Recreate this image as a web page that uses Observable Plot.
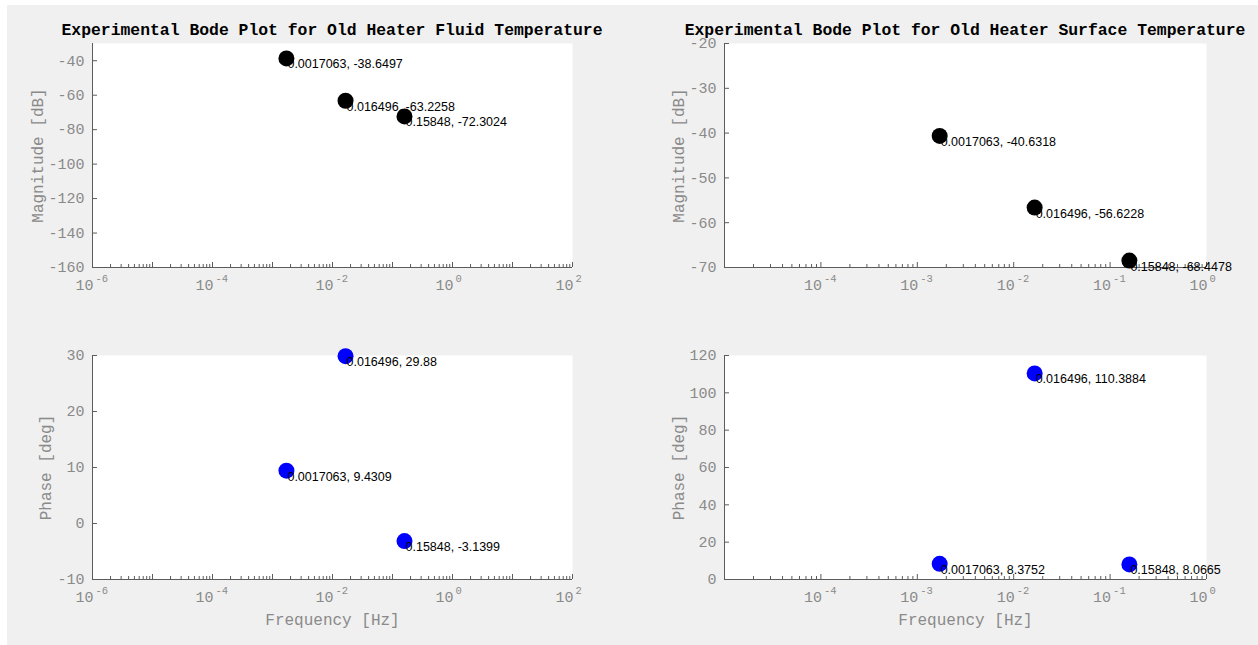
<!DOCTYPE html>
<html><head><meta charset="utf-8">
<script src="https://cdn.jsdelivr.net/npm/d3@7"></script>
<script src="https://cdn.jsdelivr.net/npm/@observablehq/plot@0.6"></script>
<style>
html,body{margin:0;padding:0;background:#fff;width:1258px;height:645px;overflow:hidden;position:relative;}
#bg{position:absolute;left:7px;top:5px;width:1251px;height:640px;background:#f0f0f0;}
.panel{position:absolute;}
.title{position:absolute;font:bold 16.4px "Liberation Mono", monospace;color:#000;white-space:nowrap;transform:translate(-50%,-50%);line-height:1;}
</style></head>
<body>
<div id="bg"></div>
<div id="t1" class="title" style="left:332px;top:31px"></div>
<div id="t2" class="title" style="left:965px;top:31px"></div>
<script>
// ---- data ----
const titles = ["Experimental Bode Plot for Old Heater Fluid Temperature",
                "Experimental Bode Plot for Old Heater Surface Temperature"];
const frequencies = [0.0017063, 0.016496, 0.15848];
const fluidMagnitude = [-38.6497, -63.2258, -72.3024];
const fluidPhase = [9.4309, 29.88, -3.1399];
const surfaceMagnitude = [-40.6318, -56.6228, -68.4478];
const surfacePhase = [8.3752, 110.3884, 8.0665];

const fluidMagTicks = [-160, -140, -120, -100, -80, -60, -40];
const surfaceMagTicks = [-70, -60, -50, -40, -30, -20];
const fluidPhaseTicks = [-10, 0, 10, 20, 30];
const surfacePhaseTicks = [0, 20, 40, 60, 80, 100, 120];
const wideFreqTicks = [1e-6, 1e-4, 1e-2, 1e0, 1e2];
const narrowFreqTicks = [1e-4, 1e-3, 1e-2, 1e-1, 1e0];

const magLabel = "Magnitude [dB]";
const phaseLabel = "Phase [deg]";
const freqLabel = "Frequency [Hz]";

document.getElementById("t1").textContent = titles[0];
document.getElementById("t2").textContent = titles[1];

const axisColor = "#5c5c5c";
const textGray = "#8a8a8a";

function panel(cfg) {
  const {left, top, width, height, margin, xDomain, xTicks, yDomain, yTicks, values, color, yLabel, yLabelOffset, xLabel} = cfg;
  const data = frequencies.map((f, i) => ({f, v: values[i]}));
  const fw = width - margin.left - margin.right;
  const fh = height - margin.top - margin.bottom;
  const lo = Math.round(Math.log10(xDomain[0])), hi = Math.round(Math.log10(xDomain[1]));
  const decades = d3.range(lo, hi + 1).map(k => Math.pow(10, k));
  const minor = d3.range(lo, hi).flatMap(k => d3.range(2, 10).map(m => m * Math.pow(10, k)));
  const marks = [
    Plot.frame({fill: "white", stroke: "none"}),
    Plot.tickX(minor, {x: d => d, insetTop: fh - 3, stroke: axisColor}),
    Plot.tickX(decades, {x: d => d, insetTop: fh - 5, stroke: axisColor}),
    Plot.tickY(yTicks, {y: d => d, insetRight: fw - 5, stroke: axisColor}),
    Plot.ruleX([xDomain[0]], {stroke: axisColor}),
    Plot.ruleY([yDomain[0]], {stroke: axisColor}),
    Plot.text(yTicks, {y: d => d, frameAnchor: "left", dx: -8, textAnchor: "end", lineAnchor: "middle", text: d => String(d), fontSize: 15, fill: textGray}),
    Plot.text(xTicks, {x: d => d, frameAnchor: "bottom", text: () => "10", textAnchor: "end", lineAnchor: "middle", dx: 1, dy: 18, fontSize: 15, fill: textGray}),
    Plot.text(xTicks, {x: d => d, frameAnchor: "bottom", text: d => String(Math.round(Math.log10(d))), textAnchor: "start", lineAnchor: "middle", dx: 3, dy: 11, fontSize: 10.5, fill: textGray}),
    Plot.text([yLabel], {frameAnchor: "left", rotate: -90, dx: -yLabelOffset, textAnchor: "middle", lineAnchor: "middle", text: d => d, fontSize: 16, fill: textGray}),
    Plot.dot(data, {x: "f", y: "v", r: 8, fill: color, stroke: "none"}),
    Plot.text(data, {x: "f", y: "v", text: d => `${d.f}, ${d.v}`, textAnchor: "start", lineAnchor: "middle", dx: 1, dy: 6,
      fontSize: 12.5, fontFamily: "'Liberation Sans', Arial, sans-serif", fill: "black"})
  ];
  if (xLabel) marks.push(Plot.text([xLabel], {frameAnchor: "bottom", dy: 40, textAnchor: "middle", lineAnchor: "middle", text: d => d, fontSize: 16, fill: textGray}));
  const svg = Plot.plot({
    width, height,
    marginLeft: margin.left, marginRight: margin.right, marginTop: margin.top, marginBottom: margin.bottom,
    x: {type: "log", domain: xDomain, axis: null},
    y: {domain: yDomain, axis: null},
    style: {background: "transparent", color: textGray, fontFamily: "'Liberation Mono', monospace", fontSize: "15px", overflow: "visible"},
    marks
  });
  svg.classList.add("panel");
  svg.style.left = left + "px";
  svg.style.top = top + "px";
  svg.style.position = "absolute";
  document.body.appendChild(svg);
}

const topMargin = {left: 92, right: 57, top: 43, bottom: 33};
const topMarginR = {left: 95, right: 52, top: 43, bottom: 33};
const botMargin = {left: 92, right: 57, top: 45, bottom: 66};
const botMarginR = {left: 95, right: 52, top: 45, bottom: 66};

panel({left: 0, top: 0, width: 629, height: 300, margin: topMargin, xDomain: [1e-6, 1e2], xTicks: wideFreqTicks,
  yDomain: [-160, -30], yTicks: fluidMagTicks, values: fluidMagnitude, color: "black", yLabel: magLabel, yLabelOffset: 55});
panel({left: 629, top: 0, width: 629, height: 300, margin: topMarginR, xDomain: [1e-5, 1], xTicks: narrowFreqTicks,
  yDomain: [-70, -20], yTicks: surfaceMagTicks, values: surfaceMagnitude, color: "black", yLabel: magLabel, yLabelOffset: 46});
panel({left: 0, top: 310, width: 629, height: 335, margin: botMargin, xDomain: [1e-6, 1e2], xTicks: wideFreqTicks,
  yDomain: [-10, 30], yTicks: fluidPhaseTicks, values: fluidPhase, color: "#0000ff", yLabel: phaseLabel, yLabelOffset: 47, xLabel: freqLabel});
panel({left: 629, top: 310, width: 629, height: 335, margin: botMarginR, xDomain: [1e-5, 1], xTicks: narrowFreqTicks,
  yDomain: [0, 120], yTicks: surfacePhaseTicks, values: surfacePhase, color: "#0000ff", yLabel: phaseLabel, yLabelOffset: 46, xLabel: freqLabel});
</script>
</body></html>
